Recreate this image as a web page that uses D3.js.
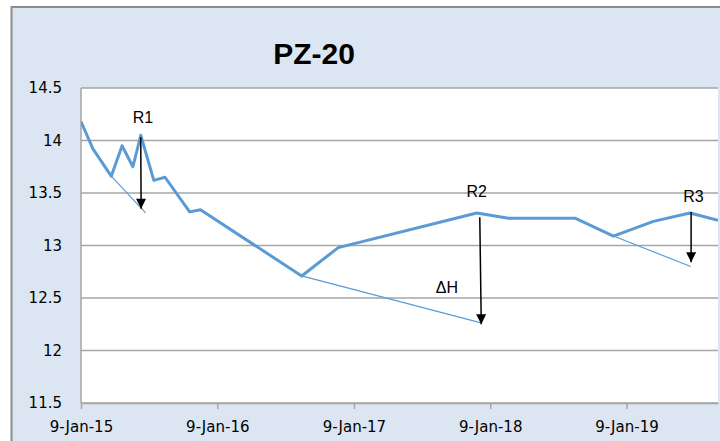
<!DOCTYPE html>
<html>
<head>
<meta charset="utf-8">
<script src="https://cdn.jsdelivr.net/npm/d3@7"></script>
<style>
  body { margin: 0; background: #fff; }
</style>
</head>
<body>
<div id="chart"></div>
<script>
var dates = ["2015-01-09","2015-02-10","2015-03-31","2015-04-29","2015-05-28","2015-06-18","2015-07-23","2015-08-22","2015-10-27","2015-11-25","2016-08-22","2016-11-28","2017-12-04","2018-02-27","2018-08-24","2018-12-05","2019-03-22","2019-06-28","2019-09-11"];
var levels = [14.18, 13.92, 13.66, 13.95, 13.75, 14.05, 13.62, 13.65, 13.32, 13.34, 12.71, 12.98, 13.31, 13.26, 13.26, 13.09, 13.23, 13.31, 13.24];

// thin recession lines: start and end
var trendStart = [["2015-03-31", 13.66], ["2016-08-22", 12.71], ["2018-12-05", 13.09]];
var trendEnd = [["2015-07-01", 13.31], ["2017-12-18", 12.26], ["2019-06-30", 12.80]];

// arrows: top and bottom
var arrowTop = [["2015-06-18", 14.03], ["2017-12-12", 13.27], ["2019-07-01", 13.32]];
var arrowBottom = [["2015-06-19", 13.35], ["2017-12-16", 12.25], ["2019-07-01", 12.84]];

var labels = ["R1", "R2", "R3", "\u0394H"];
var labelDates = ["2015-06-24", "2017-12-04", "2019-07-07", "2017-09-15"];
var labelLevels = [14.17, 13.46, 13.41, 12.55];

var yTicks = [11.5, 12, 12.5, 13, 13.5, 14, 14.5];
var xTicks = ["2015-01-09", "2016-01-09", "2017-01-09", "2018-01-09", "2019-01-09"];
var xStart = "2015-01-09", xEnd = "2019-09-11";

var parse = d3.timeParse("%Y-%m-%d");
var fmt = d3.timeFormat("%-d-%b-%y");

var W = 720, H = 441;
var pLeft = 81, pRight = 718, pTop = 88, pBottom = 403;

var svg = d3.select("#chart").append("svg")
    .attr("width", W)
    .attr("height", H);

svg.append("rect")
    .attr("x", 11.5).attr("y", 7)
    .attr("width", W).attr("height", H)
    .attr("fill", "#dce6f2")
    .attr("stroke", "#8c8c8c")
    .attr("stroke-width", 2);

svg.append("text")
    .attr("x", 314).attr("y", 64)
    .attr("text-anchor", "middle")
    .attr("font-family", "Liberation Sans, Arial, sans-serif")
    .attr("font-weight", "bold")
    .attr("font-size", 30)
    .attr("fill", "#000")
    .text("PZ-20");

var x = d3.scaleTime()
    .domain([parse(xStart), parse(xEnd)])
    .range([pLeft, pRight]);

var y = d3.scaleLinear()
    .domain([11.5, 14.5])
    .range([pBottom, pTop]);

svg.append("rect")
    .attr("x", pLeft).attr("y", pTop)
    .attr("width", pRight - pLeft).attr("height", pBottom - pTop)
    .attr("fill", "#fff");

svg.append("defs").append("clipPath").attr("id", "clip")
  .append("rect")
    .attr("x", pLeft).attr("y", pTop - 2)
    .attr("width", pRight - pLeft).attr("height", pBottom - pTop + 4);

svg.selectAll(".grid")
    .data(yTicks)
    .enter()
    .append("line")
    .attr("x1", pLeft).attr("x2", pRight)
    .attr("y1", function(d) { return y(d); })
    .attr("y2", function(d) { return y(d); })
    .attr("stroke", "#a6a6a6")
    .attr("stroke-width", 1.5);

svg.append("line")
    .attr("x1", pLeft).attr("x2", pLeft)
    .attr("y1", pTop).attr("y2", pBottom)
    .attr("stroke", "#a6a6a6")
    .attr("stroke-width", 1.5);

svg.selectAll(".ylab")
    .data(yTicks)
    .enter()
    .append("text")
    .attr("x", 62)
    .attr("y", function(d) { return y(d); })
    .attr("dy", "0.36em")
    .attr("text-anchor", "end")
    .attr("font-family", "DejaVu Sans, Verdana, sans-serif")
    .attr("font-size", 15)
    .attr("fill", "#000")
    .text(function(d) { return d; });

var xAxis = svg.append("g")
    .attr("transform", "translate(0," + pBottom + ")")
    .call(d3.axisBottom(x)
      .tickValues(xTicks.map(parse))
      .tickFormat(fmt)
      .tickSize(6)
      .tickSizeOuter(0)
      .tickPadding(12));

xAxis.select(".domain").attr("stroke", "#a6a6a6").attr("stroke-width", 1.5);
xAxis.selectAll(".tick line").attr("stroke", "#a6a6a6").attr("stroke-width", 1.5);
xAxis.selectAll("text")
    .attr("font-family", "DejaVu Sans, Verdana, sans-serif")
    .attr("font-size", 15)
    .attr("fill", "#000");

var plot = svg.append("g").attr("clip-path", "url(#clip)");

var data = dates.map(function(d, i) { return { date: parse(d), level: levels[i] }; });

var line = d3.line()
    .x(function(d) { return x(d.date); })
    .y(function(d) { return y(d.level); });

plot.selectAll(".trend")
    .data(trendStart)
    .enter()
    .append("line")
    .attr("x1", function(d) { return x(parse(d[0])); })
    .attr("y1", function(d) { return y(d[1]); })
    .attr("x2", function(d, i) { return x(parse(trendEnd[i][0])); })
    .attr("y2", function(d, i) { return y(trendEnd[i][1]); })
    .attr("stroke", "#5b9bd5")
    .attr("stroke-width", 1.2);

plot.append("path")
    .datum(data)
    .attr("d", line)
    .attr("fill", "none")
    .attr("stroke", "#5b9bd5")
    .attr("stroke-width", 3)
    .attr("stroke-linejoin", "round");

svg.select("defs").append("marker")
    .attr("id", "head")
    .attr("viewBox", "0 0 10 10")
    .attr("refX", 10).attr("refY", 5)
    .attr("markerUnits", "userSpaceOnUse")
    .attr("markerWidth", 11).attr("markerHeight", 10)
    .attr("orient", "auto")
  .append("path")
    .attr("d", "M0,0L10,5L0,10Z")
    .attr("fill", "#000");

svg.selectAll(".arrow")
    .data(arrowTop)
    .enter()
    .append("line")
    .attr("x1", function(d) { return x(parse(d[0])); })
    .attr("y1", function(d) { return y(d[1]); })
    .attr("x2", function(d, i) { return x(parse(arrowBottom[i][0])); })
    .attr("y2", function(d, i) { return y(arrowBottom[i][1]); })
    .attr("stroke", "#000")
    .attr("stroke-width", 1.5)
    .attr("marker-end", "url(#head)");

svg.selectAll(".lab")
    .data(labels)
    .enter()
    .append("text")
    .attr("x", function(d, i) { return x(parse(labelDates[i])); })
    .attr("y", function(d, i) { return y(labelLevels[i]); })
    .attr("text-anchor", "middle")
    .attr("font-family", "Liberation Sans, Arial, sans-serif")
    .attr("font-size", 16)
    .attr("fill", "#000")
    .text(function(d) { return d; });
</script>
</body>
</html>
